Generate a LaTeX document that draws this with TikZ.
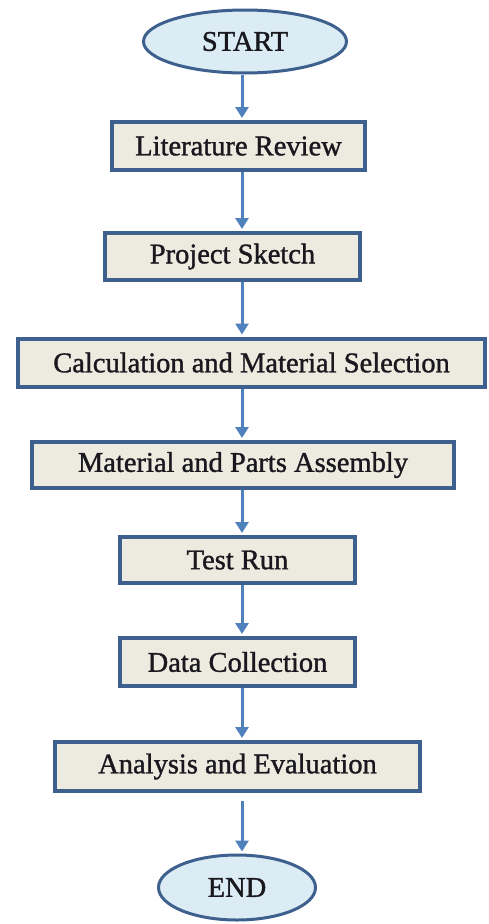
\documentclass[tikz,border=0pt]{standalone}
\usepackage{fontspec}
\setmainfont{Liberation Serif}
\newfontfamily\labelfont{Liberation Serif}[FakeBold=1.2]
\usetikzlibrary{shapes.geometric,arrows.meta}

\definecolor{frameblue}{RGB}{62,96,142}
\definecolor{boxfill}{RGB}{237,234,223}
\definecolor{termfill}{RGB}{219,236,244}
\definecolor{arrowblue}{RGB}{79,129,189}
\definecolor{inktext}{RGB}{24,24,30}

\tikzset{
  stepbox/.style={draw=frameblue, line width=4pt, fill=boxfill, rectangle,
    inner sep=0pt, text=inktext, font=\labelfont\fontsize{28.5}{30}\selectfont},
  terminal/.style={draw=frameblue, line width=3pt, fill=termfill, ellipse,
    inner sep=0pt, text=inktext, font=\labelfont\fontsize{28.5}{30}\selectfont},
  flow/.style={draw=arrowblue, line width=3pt,
    -{Triangle[width=13pt,length=11pt]}, shorten >=2pt},
}

\begin{document}
\begin{tikzpicture}[x=1pt,y=-1pt]
  \useasboundingbox (0,0) rectangle (488,924);

  % vertical line that all connectors follow
  \coordinate (spine) at (242,0);

  \node[terminal, minimum width=203pt, minimum height=63pt] (start) at (245,41.5) {START};
  \node[stepbox, minimum width=253pt, minimum height=48pt] (lit) at (238.5,146) {Literature Review};
  \node[stepbox, minimum width=255pt, minimum height=47pt] (sketch) at (232.5,256.5) {Project Sketch};
  \node[stepbox, minimum width=467pt, minimum height=48pt] (calc) at (251.5,362.5) {Calculation and Material Selection};
  \node[stepbox, minimum width=422pt, minimum height=46pt] (asm) at (243,465) {Material and Parts Assembly};
  \node[stepbox, minimum width=235pt, minimum height=46pt] (test) at (237.5,560) {Test Run};
  \node[stepbox, minimum width=235pt, minimum height=48pt] (data) at (237.5,662) {Data Collection};
  \node[stepbox, minimum width=365pt, minimum height=49pt] (anal) at (237.5,766.5) {Analysis and Evaluation};
  \node[terminal, minimum width=157pt, minimum height=65pt] (finish) at (237,887.5) {END};

  \draw[flow] (start.south -| spine) -- (lit.north -| spine);
  \draw[flow] (lit.south -| spine) -- (sketch.north -| spine);
  \draw[flow] (sketch.south -| spine) -- (calc.north -| spine);
  \draw[flow] (calc.south -| spine) -- (asm.north -| spine);
  \draw[flow] (asm.south -| spine) -- (test.north -| spine);
  \draw[flow] (test.south -| spine) -- (data.north -| spine);
  \draw[flow] (data.south -| spine) -- (anal.north -| spine);
  \draw[flow, shorten <=8pt] (anal.south -| spine) -- (finish.north -| spine);
\end{tikzpicture}
\end{document}
